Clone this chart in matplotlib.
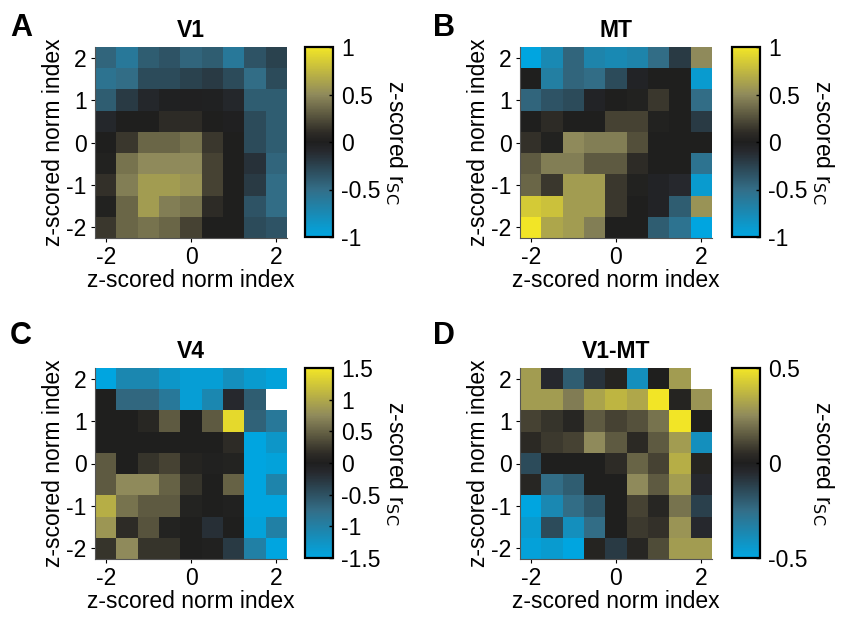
import numpy as np
import matplotlib
matplotlib.use("Agg")
import matplotlib.pyplot as plt
from matplotlib.colors import LinearSegmentedColormap

plt.rcParams['font.family'] = ['Liberation Sans', 'DejaVu Sans']
plt.rcParams['axes.unicode_minus'] = False

# grid centres (same for x and y), rows listed from y=2 (top) down to y=-2
centres = [-2, -1.5, -1, -0.5, 0, 0.5, 1, 1.5, 2]
nan = np.nan

v1 = [
    [-0.45, -0.6, -0.4, -0.35, -0.45, -0.4, -0.6, -0.35, -0.25],
    [-0.55, -0.5, -0.3, -0.3, -0.25, -0.2, -0.3, -0.5, -0.3],
    [-0.4, -0.2, -0.08, -0.03, -0.02, -0.03, -0.08, -0.4, -0.4],
    [-0.08, 0.0, 0.0, 0.1, 0.1, 0.0, -0.02, -0.3, -0.4],
    [0.0, 0.15, 0.35, 0.35, 0.4, 0.15, 0.0, -0.3, -0.4],
    [0.03, 0.4, 0.5, 0.5, 0.5, 0.2, 0.0, -0.15, -0.45],
    [0.12, 0.45, 0.6, 0.6, 0.55, 0.2, 0.0, -0.2, -0.5],
    [0.03, 0.35, 0.6, 0.45, 0.4, 0.1, 0.0, -0.35, -0.5],
    [0.15, 0.35, 0.4, 0.35, 0.2, 0.0, 0.0, -0.3, -0.35],
]

mt = [
    [-1.0, -0.75, -0.45, -0.7, -0.75, -0.7, -0.5, -0.2, 0.5],
    [0.0, -0.65, -0.45, -0.5, -0.3, -0.05, 0.0, 0.0, -0.9],
    [-0.45, -0.35, -0.3, -0.05, 0.0, 0.03, 0.15, 0.0, -0.5],
    [0.0, 0.1, 0.0, 0.0, 0.2, 0.2, 0.03, 0.0, -0.2],
    [0.12, 0.03, 0.5, 0.45, 0.45, 0.25, 0.0, 0.0, 0.0],
    [0.3, 0.45, 0.45, 0.3, 0.3, 0.1, 0.0, 0.0, -0.55],
    [0.35, 0.15, 0.6, 0.6, 0.15, 0.03, -0.05, -0.1, -0.9],
    [0.85, 0.8, 0.6, 0.6, 0.15, 0.0, -0.05, -0.4, 0.55],
    [1.0, 0.65, 0.6, 0.45, 0.0, 0.0, -0.4, -0.55, -1.0],
]

v4 = [
    [-1.5, -1.1, -1.1, -1.3, -1.4, -1.4, -1.2, -1.35, -1.45],
    [0.0, -0.7, -0.7, -0.9, -1.4, -1.1, -0.15, -0.6, nan],
    [0.0, 0.0, 0.1, 0.45, 0.0, 0.45, 1.4, -0.65, -0.9],
    [0.0, 0.0, 0.0, 0.0, 0.0, 0.0, 0.15, -1.5, -1.3],
    [0.45, 0.0, 0.2, 0.3, 0.07, 0.03, 0.05, -1.5, -1.45],
    [0.45, 0.75, 0.75, 0.5, 0.2, 0.0, 0.5, -1.5, -1.05],
    [1.05, 0.6, 0.45, 0.45, 0.05, 0.0, 0.03, -1.5, -1.5],
    [0.85, 0.15, 0.4, 0.05, 0.0, -0.2, 0.0, -1.45, -1.0],
    [0.2, 0.75, 0.2, 0.2, 0.0, 0.03, -0.3, -1.0, -1.5],
]

v1mt = [
    [0.3, -0.05, -0.2, -0.08, 0.02, -0.4, 0.0, 0.3, nan],
    [0.3, 0.3, 0.22, 0.32, 0.37, 0.33, 0.5, 0.02, 0.28],
    [0.1, 0.07, 0.03, 0.15, 0.1, 0.13, 0.2, 0.5, 0.0],
    [0.04, 0.08, 0.1, 0.25, 0.15, 0.04, 0.15, 0.3, -0.4],
    [-0.15, 0.0, 0.0, 0.0, 0.05, 0.17, 0.1, 0.35, 0.02],
    [0.03, -0.25, -0.2, 0.0, 0.0, 0.25, 0.15, 0.3, -0.05],
    [-0.5, -0.37, -0.25, -0.18, 0.0, 0.1, 0.03, 0.2, -0.12],
    [-0.45, -0.15, -0.4, -0.25, 0.0, 0.08, 0.06, 0.28, -0.05],
    [-0.48, -0.45, -0.5, 0.02, -0.1, 0.03, 0.12, 0.3, 0.3],
]

panels = [
    ('A', 'V1', v1, 1.0, [-1, -0.5, 0, 0.5, 1], ['-1', '-0.5', '0', '0.5', '1']),
    ('B', 'MT', mt, 1.0, [-1, -0.5, 0, 0.5, 1], ['-1', '-0.5', '0', '0.5', '1']),
    ('C', 'V4', v4, 1.5, [-1.5, -1, -0.5, 0, 0.5, 1, 1.5],
     ['-1.5', '-1', '-0.5', '0', '0.5', '1', '1.5']),
    ('D', 'V1-MT', v1mt, 0.5, [-0.5, 0, 0.5], ['-0.5', '0', '0.5']),
]

# cyan - black - yellow colormap
cmap = LinearSegmentedColormap.from_list('cyk', [
    (0.0, (0.0, 0.65, 0.88)),
    (0.25, (0.20, 0.43, 0.53)),
    (0.45, (0.15, 0.16, 0.18)),
    (0.5, (0.12, 0.12, 0.12)),
    (0.55, (0.18, 0.17, 0.15)),
    (0.75, (0.56, 0.54, 0.36)),
    (1.0, (0.95, 0.90, 0.15)),
])
cmap.set_bad('white')

W, H = 844, 617
fig = plt.figure(figsize=(W / 100, H / 100), dpi=100)

# pixel boxes: (left, top) of heatmap and colorbar
hm_pos = [(95, 47), (520, 47), (95, 368), (520, 368)]
cb_pos = [(305, 47), (732, 47), (305, 368), (732, 368)]
letter_pos = [(10, 36), (433, 36), (10, 344), (433, 344)]
fs = 16.5

for (letter, title, data, lim, cticks, clabels), (hx, hy), (cx, cy), (lx, ly) in zip(
        panels, hm_pos, cb_pos, letter_pos):
    ax = fig.add_axes([hx / W, 1 - (hy + 191) / H, 192 / W, 191 / H])
    half = (centres[1] - centres[0]) / 2
    im = ax.imshow(np.array(data), cmap=cmap, vmin=-lim, vmax=lim, aspect='auto',
                   extent=[centres[0] - half, centres[-1] + half,
                           centres[0] - half, centres[-1] + half],
                   interpolation='nearest')
    ax.set_xticks([-2, 0, 2])
    ax.set_yticks([-2, -1, 0, 1, 2])
    ax.tick_params(direction='out', length=3, width=0.8, labelsize=fs, pad=3)
    for s in ['top', 'right']:
        ax.spines[s].set_visible(False)
    for s in ['left', 'bottom']:
        ax.spines[s].set_color('#555555')
        ax.spines[s].set_linewidth(0.8)
    ax.set_xlabel('z-scored norm index', fontsize=fs, labelpad=0)
    ax.set_ylabel('z-scored norm index', fontsize=fs, labelpad=1)
    ax.set_title(title, fontsize=fs, fontweight='bold', pad=7)

    cax = fig.add_axes([cx / W, 1 - (cy + 190) / H, 28 / W, 190 / H])
    cb = fig.colorbar(im, cax=cax, ticks=cticks)
    cb.ax.set_yticklabels(clabels)
    cb.outline.set_linewidth(1.6)
    cb.ax.tick_params(direction='in', length=3, width=1, labelsize=fs, pad=6)
    cb.set_label('z-scored r$_{\\mathrm{SC}}$', fontsize=fs, rotation=270, labelpad=20)

    fig.text(lx / W, 1 - ly / H, letter, fontsize=22, fontweight='bold',
             ha='left', va='baseline')

fig.savefig('out.png', dpi=100)
